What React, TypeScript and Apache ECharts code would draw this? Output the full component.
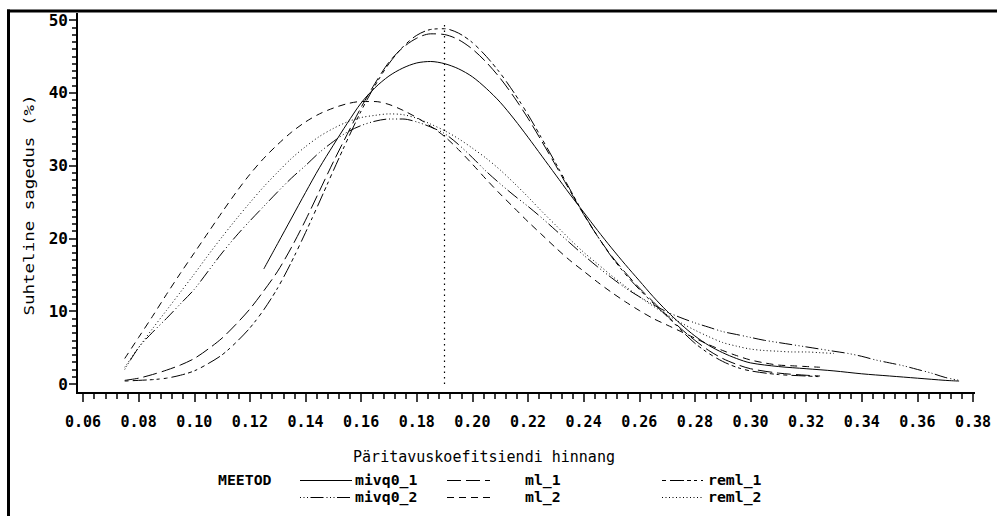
import React, { useEffect, useRef } from "react";
import * as echarts from "echarts";

// ---- data ----
const mivq0_1_x = [0.125, 0.13, 0.135, 0.14, 0.145, 0.15, 0.155, 0.16, 0.165, 0.17, 0.175, 0.18, 0.185, 0.19, 0.195, 0.2, 0.205, 0.21, 0.215, 0.22, 0.225, 0.23, 0.235, 0.24, 0.245, 0.25, 0.255, 0.26, 0.265, 0.27, 0.275, 0.28, 0.285, 0.29, 0.295, 0.3, 0.31, 0.32, 0.33, 0.34, 0.35, 0.36, 0.37, 0.375];
const mivq0_1_y = [15.8, 19.3, 22.8, 26.3, 29.7, 32.8, 35.8, 38.6, 40.7, 42.3, 43.4, 44.1, 44.3, 44.0, 43.3, 42.2, 40.6, 38.7, 36.4, 33.9, 31.3, 28.7, 26.1, 23.6, 21.1, 18.7, 16.4, 14.2, 12.0, 10.0, 8.2, 6.6, 5.3, 4.3, 3.5, 2.9, 2.4, 2.1, 1.8, 1.4, 1.1, 0.8, 0.5, 0.4];

const mivq0_2_x = [0.075, 0.08, 0.085, 0.09, 0.095, 0.1, 0.105, 0.11, 0.115, 0.12, 0.125, 0.13, 0.135, 0.14, 0.145, 0.15, 0.155, 0.16, 0.165, 0.17, 0.175, 0.18, 0.185, 0.19, 0.195, 0.2, 0.205, 0.21, 0.215, 0.22, 0.225, 0.23, 0.235, 0.24, 0.245, 0.25, 0.255, 0.26, 0.265, 0.27, 0.275, 0.28, 0.285, 0.29, 0.295, 0.3, 0.305, 0.31, 0.315, 0.32, 0.325, 0.33, 0.335, 0.34, 0.345, 0.35, 0.355, 0.36, 0.365, 0.37, 0.375];
const mivq0_2_y = [2.0, 5.0, 7.1, 9.0, 11.0, 13.0, 15.5, 18.0, 20.3, 22.4, 24.4, 26.4, 28.3, 30.0, 31.8, 33.3, 34.6, 35.5, 36.1, 36.4, 36.4, 36.0, 35.3, 34.4, 32.9, 31.1, 29.2, 27.5, 25.9, 24.4, 22.8, 21.1, 19.4, 17.7, 16.1, 14.6, 13.2, 12.0, 10.9, 9.9, 9.1, 8.4, 7.8, 7.2, 6.8, 6.4, 6.0, 5.7, 5.4, 5.1, 4.8, 4.5, 4.2, 3.8, 3.3, 2.9, 2.5, 2.0, 1.5, 0.9, 0.5];

const ml_1_x = [0.075, 0.08, 0.085, 0.09, 0.095, 0.1, 0.105, 0.11, 0.115, 0.12, 0.125, 0.13, 0.135, 0.14, 0.145, 0.15, 0.155, 0.16, 0.165, 0.17, 0.175, 0.18, 0.185, 0.19, 0.195, 0.2, 0.205, 0.21, 0.215, 0.22, 0.225, 0.23, 0.235, 0.24, 0.245, 0.25, 0.255, 0.26, 0.265, 0.27, 0.275, 0.28, 0.285, 0.29, 0.295, 0.3, 0.31, 0.32, 0.325];
const ml_1_y = [0.5, 0.8, 1.3, 1.9, 2.6, 3.5, 4.8, 6.3, 8.2, 10.3, 12.8, 15.5, 18.8, 22.5, 26.5, 30.5, 34.3, 38.0, 41.3, 44.2, 46.2, 47.5, 48.1, 48.0, 47.3, 46.0, 44.2, 42.0, 39.4, 36.5, 33.3, 30.0, 26.6, 23.3, 20.3, 17.6, 15.3, 13.2, 11.3, 9.4, 7.6, 6.0, 4.6, 3.5, 2.7, 2.1, 1.5, 1.2, 1.1];

const ml_2_x = [0.075, 0.08, 0.085, 0.09, 0.095, 0.1, 0.105, 0.11, 0.115, 0.12, 0.125, 0.13, 0.135, 0.14, 0.145, 0.15, 0.155, 0.16, 0.165, 0.17, 0.175, 0.18, 0.185, 0.19, 0.195, 0.2, 0.205, 0.21, 0.215, 0.22, 0.225, 0.23, 0.235, 0.24, 0.245, 0.25, 0.255, 0.26, 0.265, 0.27, 0.275, 0.28, 0.285, 0.29, 0.295, 0.3, 0.305, 0.31, 0.315, 0.32, 0.325];
const ml_2_y = [3.5, 6.4, 9.3, 12.3, 15.2, 18.0, 20.8, 23.6, 26.3, 28.8, 31.0, 32.9, 34.6, 36.0, 37.1, 37.9, 38.5, 38.8, 38.8, 38.4, 37.6, 36.6, 35.4, 34.0, 32.2, 30.2, 28.1, 26.1, 24.2, 22.3, 20.5, 18.7, 17.0, 15.5, 14.0, 12.6, 11.3, 10.1, 9.0, 8.1, 7.2, 6.3, 5.4, 4.6, 3.9, 3.3, 2.9, 2.6, 2.5, 2.4, 2.3];

const reml_1_x = [0.075, 0.08, 0.085, 0.09, 0.095, 0.1, 0.105, 0.11, 0.115, 0.12, 0.125, 0.13, 0.135, 0.14, 0.145, 0.15, 0.155, 0.16, 0.165, 0.17, 0.175, 0.18, 0.185, 0.19, 0.195, 0.2, 0.205, 0.21, 0.215, 0.22, 0.225, 0.23, 0.235, 0.24, 0.245, 0.25, 0.255, 0.26, 0.265, 0.27, 0.275, 0.28, 0.285, 0.29, 0.295, 0.3, 0.31, 0.32, 0.325];
const reml_1_y = [0.4, 0.5, 0.6, 0.8, 1.2, 1.8, 2.8, 4.0, 5.7, 7.7, 10.2, 13.2, 16.8, 20.8, 25.0, 29.3, 33.5, 37.5, 41.0, 44.0, 46.3, 47.9, 48.7, 48.8, 48.2, 46.9, 45.0, 42.7, 40.0, 37.0, 33.7, 30.3, 26.8, 23.4, 20.3, 17.5, 15.1, 13.0, 11.1, 9.3, 7.4, 5.6, 4.2, 3.1, 2.3, 1.8, 1.3, 1.1, 1.0];

const reml_2_x = [0.075, 0.08, 0.085, 0.09, 0.095, 0.1, 0.105, 0.11, 0.115, 0.12, 0.125, 0.13, 0.135, 0.14, 0.145, 0.15, 0.155, 0.16, 0.165, 0.17, 0.175, 0.18, 0.185, 0.19, 0.195, 0.2, 0.205, 0.21, 0.215, 0.22, 0.225, 0.23, 0.235, 0.24, 0.245, 0.25, 0.255, 0.26, 0.265, 0.27, 0.275, 0.28, 0.285, 0.29, 0.295, 0.3, 0.305, 0.31, 0.315, 0.32, 0.325, 0.33];
const reml_2_y = [2.3, 5.0, 7.6, 10.1, 12.6, 15.1, 17.7, 20.2, 22.6, 24.9, 27.1, 29.1, 31.0, 32.6, 34.0, 35.1, 36.0, 36.6, 36.9, 37.1, 37.0, 36.5, 35.7, 34.8, 33.7, 32.4, 31.0, 29.4, 27.6, 25.7, 23.7, 21.8, 19.9, 18.1, 16.5, 14.9, 13.4, 12.0, 10.7, 9.5, 8.4, 7.4, 6.5, 5.7, 5.2, 4.8, 4.6, 4.5, 4.4, 4.4, 4.3, 4.2];

const seriesNames = ["mivq0_1", "mivq0_2", "ml_1", "ml_2", "reml_1", "reml_2"];
const legendTitle = "MEETOD";
const xTitle = "Päritavuskoefitsiendi hinnang";
const yTitle = "Suhteline sagedus (%)";
const refLineX = 0.19;
const refLineTop = 49.3;

// ---- styling ----
const dashes: Record<string, number[] | "solid"> = {
  mivq0_1: "solid",
  mivq0_2: [1, 2.5, 1, 2.5, 1, 2.5, 13, 3],
  ml_1: [14, 5],
  ml_2: [7, 5],
  reml_1: [4, 4, 14, 3, 4, 3, 3, 4],
  reml_2: [1, 2.5],
};

const dataFor: Record<string, [number[], number[]]> = {
  mivq0_1: [mivq0_1_x, mivq0_1_y],
  mivq0_2: [mivq0_2_x, mivq0_2_y],
  ml_1: [ml_1_x, ml_1_y],
  ml_2: [ml_2_x, ml_2_y],
  reml_1: [reml_1_x, reml_1_y],
  reml_2: [reml_2_x, reml_2_y],
};

const MONO = '"DejaVu Sans Mono", "Liberation Mono", monospace';

export default function App() {
  const ref = useRef<HTMLDivElement>(null);
  useEffect(() => {
    if (!ref.current) return;
    const chart = echarts.init(ref.current, null, { renderer: "svg" });

    const series: any[] = seriesNames.map((name, i) => {
      const [xs, ys] = dataFor[name];
      const s: any = {
        name,
        type: "line",
        data: xs.map((x, k) => [x, ys[k]]),
        symbol: "none",
        smooth: 0.3,
        silent: true,
        lineStyle: { color: "#000", width: 1, type: dashes[name] },
        z: 3,
      };
      if (i === 0) {
        s.markLine = {
          symbol: "none",
          silent: true,
          label: { show: false },
          lineStyle: { color: "#000", width: 1.2, type: [1.5, 4] },
          data: [[{ coord: [refLineX, 0] }, { coord: [refLineX, refLineTop] }]],
        };
      }
      return s;
    });

    // legend graphics
    const cols = [
      { sx1: 300, sx2: 352, tx: 355 },
      { sx1: 447, sx2: 490, tx: 525 },
      { sx1: 662, sx2: 703, tx: 708 },
    ];
    const rowsY = [480, 497];
    const legendEls: any[] = [];
    seriesNames.forEach((name, i) => {
      const col = cols[Math.floor(i / 2)];
      const y = rowsY[i % 2];
      const d = dashes[name];
      legendEls.push({
        type: "line",
        shape: { x1: col.sx1, y1: y + 0.5, x2: col.sx2, y2: y + 0.5 },
        style: { stroke: "#000", lineWidth: 1.2, lineDash: d === "solid" ? null : d },
      });
      legendEls.push({
        type: "text",
        x: col.tx,
        y,
        scaleX: 1.06,
        style: { text: name, font: `bold 14px ${MONO}`, lineHeight: 14, fill: "#000", align: "left", verticalAlign: "middle" },
      });
    });

    chart.setOption({
      animation: false,
      backgroundColor: "#fff",
      grid: { left: 83, right: 24, top: 20, bottom: 132, containLabel: false },
      xAxis: {
        type: "value",
        min: 0.06,
        max: 0.38,
        interval: 0.02,
        offset: 9,
        axisLine: { show: true, onZero: false, lineStyle: { color: "#000", width: 2 } },
        axisTick: { show: true, inside: false, length: 9, lineStyle: { color: "#000", width: 1.5 } },
        minorTick: { show: true, splitNumber: 5, length: 6, lineStyle: { color: "#000", width: 1.5 } },
        splitLine: { show: false },
        minorSplitLine: { show: false },
        axisLabel: {
          margin: 21,
          color: "#000",
          fontFamily: MONO,
          fontWeight: "bold",
          fontSize: 15,
          showMinLabel: true,
          showMaxLabel: true,
          formatter: (v: number) => v.toFixed(2),
        },
      },
      yAxis: {
        type: "value",
        min: 0,
        max: 50,
        interval: 10,
        offset: 6,
        axisLine: { show: true, onZero: false, lineStyle: { color: "#000", width: 2 } },
        axisTick: { show: true, inside: false, length: 8, lineStyle: { color: "#000", width: 1.5 } },
        minorTick: { show: true, splitNumber: 10, length: 5, lineStyle: { color: "#000", width: 1.5 } },
        splitLine: { show: false },
        minorSplitLine: { show: false },
        axisLabel: {
          margin: 9,
          color: "#000",
          fontFamily: MONO,
          fontWeight: "bold",
          fontSize: 16,
        },
      },
      series,
      graphic: [
        { type: "rect", shape: { x: 7, y: 9.5, width: 990, height: 3 }, style: { fill: "#000" } },
        { type: "rect", shape: { x: 7, y: 9.5, width: 3, height: 507 }, style: { fill: "#000" } },
        { type: "line", shape: { x1: 77, y1: 13, x2: 77, y2: 394 }, style: { stroke: "#000", lineWidth: 2 } },
        { type: "line", shape: { x1: 76, y1: 393, x2: 975, y2: 393 }, style: { stroke: "#000", lineWidth: 2 } },
        {
          type: "text",
          x: 29,
          y: 205,
          rotation: Math.PI / 2,
          scaleX: 1.25,
          style: { text: yTitle, font: `14px ${MONO}`, fill: "#000", align: "center", verticalAlign: "middle" },
        },
        {
          type: "text",
          x: 484,
          y: 457,
          style: { text: xTitle, font: `15px ${MONO}`, fill: "#000", align: "center", verticalAlign: "middle" },
        },
        {
          type: "text",
          x: 218,
          y: 480,
          scaleX: 1.06,
          style: { text: legendTitle, font: `bold 14px ${MONO}`, lineHeight: 14, fill: "#000", align: "left", verticalAlign: "middle" },
        },
        ...legendEls,
      ],
    });
    return () => chart.dispose();
  }, []);
  return <div ref={ref} style={{ position: "absolute", left: 0, top: 0, width: 997, height: 516 }} />;
}
